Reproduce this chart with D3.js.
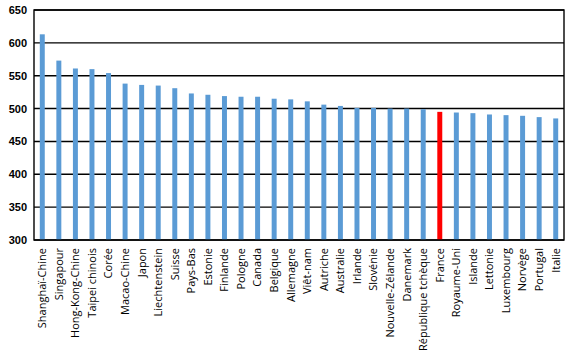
<!DOCTYPE html>
<html><head><meta charset="utf-8">
<script src="https://cdn.jsdelivr.net/npm/d3@7"></script>
<style>body{margin:0;background:#fff;} svg{display:block;}</style>
</head><body><svg id="c" width="574" height="360"></svg>
<script>
const categories = ["Shanghaï-Chine","Singapour","Hong-Kong-Chine","Taipei chinois","Corée","Macao-Chine","Japon","Liechtenstein","Suisse","Pays-Bas","Estonie","Finlande","Pologne","Canada","Belgique","Allemagne","Viêt-nam","Autriche","Australie","Irlande","Slovénie","Nouvelle-Zélande","Danemark","République tchèque","France","Royaume-Uni","Islande","Lettonie","Luxembourg","Norvège","Portugal","Italie"];
const scores = [613,573,561,560,554,538,536,535,531,523,521,519,518,518,515,514,511,506,504,501,501,500,500,499,495,494,493,491,490,489,487,485];
const highlight = "France";
const yTicks = [300,350,400,450,500,550,600,650];

const svg = d3.select("#c");
const m = {l:34, r:564, t:10, b:240};
const x = d3.scaleBand().domain(categories).range([m.l, m.r]).paddingInner(0.7).paddingOuter(0.35);
const y = d3.scaleLinear().domain([300,650]).range([m.b, m.t]);

// gridlines
svg.append("g").selectAll("line").data(yTicks).join("line")
  .attr("x1", m.l).attr("x2", m.r)
  .attr("y1", d=>y(d)).attr("y2", d=>y(d))
  .attr("stroke", "#000").attr("stroke-width", 1.4);

// bars
svg.append("g").selectAll("rect").data(categories).join("rect")
  .attr("x", d=>x(d)).attr("width", x.bandwidth())
  .attr("y", (d,i)=>y(scores[i])).attr("height", (d,i)=>y(300)-y(scores[i]))
  .attr("fill", d=> d===highlight ? "#FF0000" : "#5B9BD5");

// frame
svg.append("rect").attr("x", m.l).attr("y", m.t).attr("width", m.r-m.l).attr("height", m.b-m.t)
  .attr("fill","none").attr("stroke","#000").attr("stroke-width",1.4);

// y axis
const ya = svg.append("g").attr("transform", `translate(${m.l},0)`)
  .call(d3.axisLeft(y).tickValues(yTicks).tickSize(0).tickPadding(7));
ya.select(".domain").remove();
ya.selectAll("text").attr("font-family","Liberation Sans, Arial, sans-serif").attr("font-size","11px").attr("font-weight","bold").attr("fill","#000");

// x axis
const xa = svg.append("g").attr("transform", `translate(0,${m.b})`)
  .call(d3.axisBottom(x).tickSize(0).tickPadding(0));
xa.select(".domain").remove();
xa.selectAll("text")
  .attr("font-family","Open Sans, DejaVu Sans, sans-serif").attr("font-size","11px").attr("fill","#000")
  .attr("transform","rotate(-90)").attr("text-anchor","end")
  .attr("x",-8).attr("y",0).attr("dy","0.35em").attr("dx",0);
</script></body></html>
